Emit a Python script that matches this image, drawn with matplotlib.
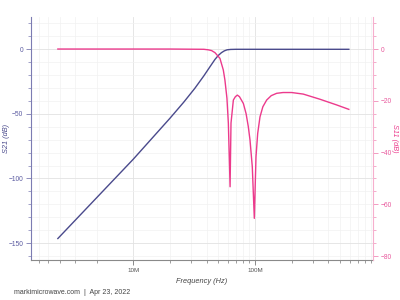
import numpy as np
from matplotlib import pyplot as plt
from matplotlib.ticker import FixedLocator, NullFormatter

# S21 (dB) vs frequency (Hz)
s21_freq = [2.40e6, 5.32e6, 10e6, 20e6, 26e6, 32e6, 38e6, 43e6, 46.9e6, 50e6,
            53e6, 56e6, 59e6, 63e6, 70e6, 100e6, 200e6, 590e6]
s21_db = [-146.4, -112.2, -85.1, -53.5, -41.0, -30.4, -20.7, -13.2, -8.0, -4.9,
          -2.8, -1.4, -0.6, -0.3, -0.2, -0.2, -0.2, -0.2]

# S11 (dB) vs frequency (Hz)
s11_freq = [2.40e6, 20e6, 38e6, 41.3e6, 44.0e6, 46.9e6, 51.5e6, 54.9e6, 56.6e6, 58.8e6,
            60.4e6, 62.4e6, 63.5e6, 66.4e6, 69.0e6, 71.6e6, 74.5e6, 80.2e6, 84.5e6, 88.1e6,
            91.0e6, 95.0e6, 98.7e6, 101.9e6, 105.2e6, 109.9e6, 116e6, 124.7e6, 136e6, 150.7e6,
            170e6, 200e6, 249e6, 342e6, 469e6, 590e6]
s11_db = [0.0, 0.0, -0.1, -0.3, -0.6, -1.4, -3.6, -8.1, -12.0, -19.0,
          -28.7, -53.2, -28.6, -19.7, -18.4, -17.8, -18.4, -21.0, -25.0, -30.0,
          -35.2, -45.5, -65.4, -41.6, -32.6, -26.2, -22.3, -19.7, -18.0, -17.1,
          -16.8, -16.8, -17.4, -19.4, -21.6, -23.3]

xticks = [1e7, 1e8]
xticklabels = ['10M', '100M']
left_ticks = [-150, -100, -50, 0]
right_ticks = [-80, -60, -40, -20, 0]

blue = '#4a4a8c'
pink = '#ec3a8c'

plt.rcParams['font.family'] = ['Liberation Sans', 'DejaVu Sans']

fig = plt.figure(figsize=(4, 3), dpi=100)
ax = fig.add_axes([0.0775, 0.1333, 0.855, 0.8111])
ax2 = ax.twinx()

ax.plot(s21_freq, s21_db, color=blue, lw=1.0, zorder=3)
ax2.plot(s11_freq, s11_db, color=pink, lw=1.0, zorder=3)

ax.set_xscale('log')
ax.set_xlim(1.444e6, 932e6)
ax.set_ylim(-163, 25)
ax2.set_ylim(-81.5, 12.5)

# x ticks (the low decade's minors sit at 10M/k, as in the original)
minor_x = [1e7 / k for k in range(2, 7)] + [k * 1e7 for k in range(2, 10)] + [k * 1e8 for k in range(2, 10)]
ax.xaxis.set_major_locator(FixedLocator(xticks))
ax.set_xticklabels(xticklabels)
ax.xaxis.set_minor_locator(FixedLocator(minor_x))
ax.xaxis.set_minor_formatter(NullFormatter())

ax.set_yticks(left_ticks)
ax.yaxis.set_minor_locator(FixedLocator(np.arange(-160, 30, 10)))
ax2.set_yticks(right_ticks)
ax2.yaxis.set_minor_locator(FixedLocator(np.arange(-80, 15, 5)))

ax.grid(which='major', color='#e2e2e2', lw=0.6)
ax.grid(which='minor', color='#f1f1f1', lw=0.5)
ax.set_axisbelow(True)

for s in ['top', 'right']:
    ax.spines[s].set_visible(False)
for s in ['top', 'left', 'bottom']:
    ax2.spines[s].set_visible(False)
ax.spines['left'].set_color('#7c7cb2')
ax.spines['bottom'].set_color('#8a8a8a')
ax2.spines['right'].set_color('#f6afcd')
for sp in [ax.spines['left'], ax.spines['bottom'], ax2.spines['right']]:
    sp.set_linewidth(0.8)

ax.tick_params(axis='x', which='major', length=3.5, width=0.6, color='#777777',
               labelsize=4.5, labelcolor='#555555', pad=2)
ax.tick_params(axis='x', which='minor', length=2, width=0.5, color='#777777')
ax.tick_params(axis='y', which='major', length=3.5, width=0.6, color='#7c7cb2',
               labelsize=4.8, labelcolor='#5a5aa0', pad=2)
ax.tick_params(axis='y', which='minor', length=2, width=0.5, color='#7c7cb2')
ax2.tick_params(axis='y', which='major', length=3.5, width=0.6, color='#f08cb8',
                labelsize=4.8, labelcolor='#e8589c', pad=2)
ax2.tick_params(axis='y', which='minor', length=2, width=0.5, color='#f08cb8')

ax.set_xlabel('Frequency (Hz)', fontsize=5.3, style='italic', color='#444444', labelpad=4)
ax.set_ylabel('S21 (dB)', fontsize=5.3, style='italic', color=blue)
ax2.set_ylabel('S11 (dB)', fontsize=5.3, style='italic', color=pink, rotation=-90)
ax.yaxis.set_label_coords(-0.06, 0.5)
ax2.yaxis.set_label_coords(1.072, 0.5)

fig.text(0.035, 0.019, 'markimicrowave.com  |  Apr 23, 2022', fontsize=5, color='#444444')

fig.savefig('out.png', dpi=100)
